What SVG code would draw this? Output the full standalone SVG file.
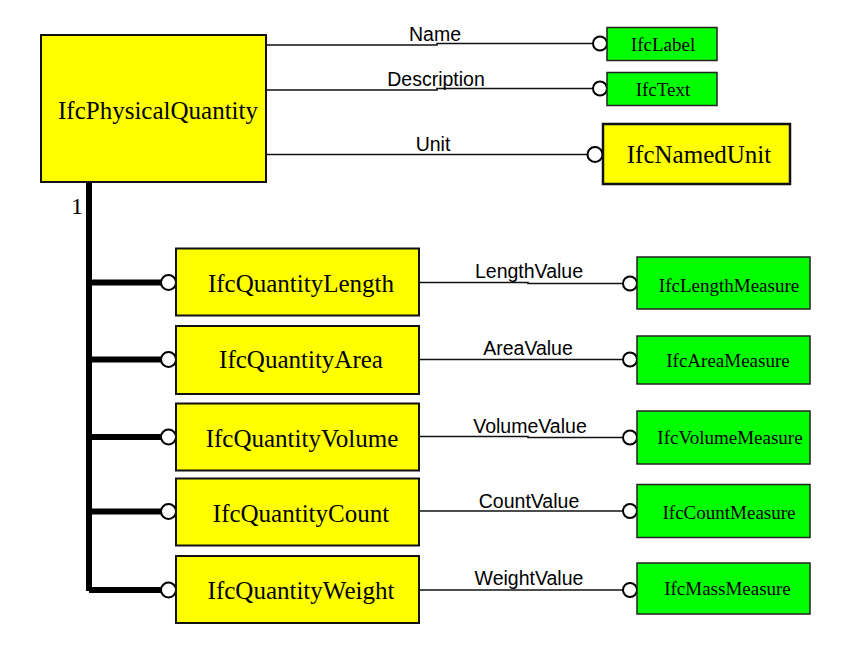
<svg xmlns="http://www.w3.org/2000/svg" width="847" height="645" viewBox="0 0 847 645">
<style>
.y{fill:#ffff00;stroke:#111;stroke-width:2}
.g{fill:#00ff00;stroke:#222;stroke-width:1.5}
.ty{font-family:"Liberation Serif","Times New Roman",serif;font-size:25px;fill:#000;text-anchor:middle}
.tg{font-family:"Liberation Serif","Times New Roman",serif;font-size:19px;fill:#000;text-anchor:middle}
.lb{font-family:"Liberation Sans",Arial,sans-serif;font-size:19.5px;fill:#000;text-anchor:middle}
.thin{fill:none;stroke:#111;stroke-width:1.6}
.thick{fill:none;stroke:#000;stroke-width:6}
.c{fill:#fff;stroke:#000;stroke-width:2}
</style>
<g id="connectors">
<path class="thin" d="M266,45 H437 V43.5 H593"/>
<path class="thin" d="M266,90 H437 V88.5 H593"/>
<path class="thin" d="M266,154.5 H587"/>
<circle class="c" cx="600" cy="43.5" r="7"/>
<circle class="c" cx="600" cy="88.5" r="7"/>
<circle class="c" cx="595" cy="154.5" r="7.5"/>
<text class="lb" x="435" y="41">Name</text>
<text class="lb" x="436" y="86">Description</text>
<text class="lb" x="433" y="151">Unit</text>
<text x="77" y="214" font-family="Liberation Serif,serif" font-size="24" text-anchor="middle">1</text>
<path class="thick" d="M89,182 V591"/>
<path class="thick" d="M89,282.5 H162 M89,359.5 H162 M89,437 H162 M89,511.5 H162 M89,590 H162"/>
<circle class="c" cx="168.5" cy="282.5" r="7.5"/>
<circle class="c" cx="168.5" cy="359.5" r="7.5"/>
<circle class="c" cx="168.5" cy="437" r="7.5"/>
<circle class="c" cx="168.5" cy="511.5" r="7.5"/>
<circle class="c" cx="168.5" cy="590" r="7.5"/>
<path class="thin" d="M419,282.5 H528 V283.5 H623"/>
<path class="thin" d="M419,359.5 H623"/>
<path class="thin" d="M419,436.5 H528 V437.5 H623"/>
<path class="thin" d="M419,511 H623"/>
<path class="thin" d="M419,590 H623"/>
<circle class="c" cx="630" cy="283.5" r="7"/>
<circle class="c" cx="630" cy="359.5" r="7"/>
<circle class="c" cx="630" cy="437.5" r="7"/>
<circle class="c" cx="630" cy="511" r="7"/>
<circle class="c" cx="630" cy="590" r="7"/>
<text class="lb" x="529" y="278">LengthValue</text>
<text class="lb" x="528" y="355">AreaValue</text>
<text class="lb" x="530" y="433">VolumeValue</text>
<text class="lb" x="529" y="508">CountValue</text>
<text class="lb" x="529" y="585">WeightValue</text>
</g>
<g id="IfcPhysicalQuantity"><rect class="y" x="41" y="35" width="225" height="147"/><text class="ty" x="158" y="119">IfcPhysicalQuantity</text></g>
<g id="IfcLabel"><rect class="g" x="607" y="27.5" width="110" height="33"/><text class="tg" x="663" y="51">IfcLabel</text></g>
<g id="IfcText"><rect class="g" x="607" y="72.5" width="110" height="33"/><text class="tg" x="663" y="96">IfcText</text></g>
<g id="IfcNamedUnit"><rect class="y" x="603" y="124" width="187" height="60" style="stroke-width:2.5"/><text class="ty" x="699" y="163">IfcNamedUnit</text></g>
<g id="IfcQuantityLength"><rect class="y" x="176" y="248.5" width="243" height="67"/><text class="ty" x="301" y="292">IfcQuantityLength</text></g>
<g id="IfcQuantityArea"><rect class="y" x="176" y="326" width="243" height="68"/><text class="ty" x="301" y="368">IfcQuantityArea</text></g>
<g id="IfcQuantityVolume"><rect class="y" x="176" y="403.5" width="243" height="67"/><text class="ty" x="302" y="447">IfcQuantityVolume</text></g>
<g id="IfcQuantityCount"><rect class="y" x="176" y="478.5" width="243" height="67"/><text class="ty" x="301" y="522">IfcQuantityCount</text></g>
<g id="IfcQuantityWeight"><rect class="y" x="176" y="556" width="243" height="67"/><text class="ty" x="301" y="599">IfcQuantityWeight</text></g>
<g id="IfcLengthMeasure"><rect class="g" x="637" y="257" width="173" height="52"/><text class="tg" x="729" y="291.5">IfcLengthMeasure</text></g>
<g id="IfcAreaMeasure"><rect class="g" x="637" y="336" width="173" height="48"/><text class="tg" x="728" y="366.5">IfcAreaMeasure</text></g>
<g id="IfcVolumeMeasure"><rect class="g" x="637" y="411" width="173" height="53"/><text class="tg" x="730" y="444">IfcVolumeMeasure</text></g>
<g id="IfcCountMeasure"><rect class="g" x="637" y="484.5" width="173" height="53"/><text class="tg" x="729" y="519">IfcCountMeasure</text></g>
<g id="IfcMassMeasure"><rect class="g" x="637" y="563" width="173" height="51"/><text class="tg" x="727.5" y="595">IfcMassMeasure</text></g>
</svg>
